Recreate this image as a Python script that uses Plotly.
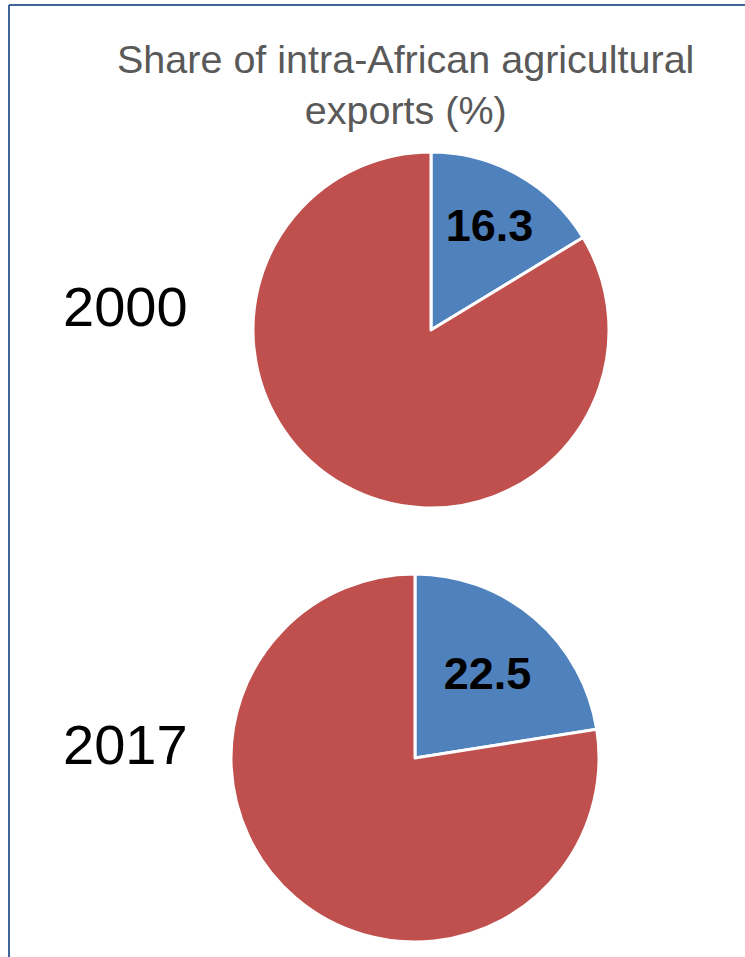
import plotly.graph_objects as go

# Data
years = ["2000", "2017"]
intra_share = [16.3, 22.5]
other_share = [83.7, 77.5]
slice_names = ["Intra-African", "Rest of world"]
title_text = "Share of intra-African agricultural<br>exports (%)"

W, H = 745, 957
blue = "#4f81bd"
red = "#c0504d"

# pie placement (pixels: center x, center y, radius)
placements = [(431, 330, 178), (415, 758, 184)]
label_y = [306, 744]

fig = go.Figure()
for i, yr in enumerate(years):
    cx, cy, r = placements[i]
    vals = [intra_share[i], other_share[i]]
    fig.add_trace(go.Pie(
        labels=slice_names,
        values=vals,
        text=[f"{intra_share[i]:.1f}", ""],
        textinfo="text",
        textposition="inside",
        insidetextorientation="horizontal",
        insidetextfont=dict(family="Liberation Sans", size=45, color="black", weight="bold"),
        marker=dict(colors=[blue, red], line=dict(color="white", width=3)),
        sort=False,
        direction="clockwise",
        rotation=0,
        hole=0,
        showlegend=False,
        domain=dict(x=[(cx - r) / W, (cx + r) / W], y=[1 - (cy + r) / H, 1 - (cy - r) / H]),
    ))
    fig.add_annotation(
        text=yr, x=125 / W, y=1 - label_y[i] / H, xref="paper", yref="paper",
        xanchor="center", yanchor="middle", showarrow=False,
        font=dict(family="Liberation Sans", size=56, color="black"),
    )

fig.add_annotation(
    text=title_text, x=405 / W, y=1 - 84 / H, xref="paper", yref="paper",
    xanchor="center", yanchor="middle", showarrow=False,
    font=dict(family="Liberation Sans", size=39.5, color="#595959"),
)

# frame lines (top and left)
fig.add_shape(type="line", xref="paper", yref="paper", x0=9 / W, x1=1, y0=1 - 5 / H, y1=1 - 5 / H,
              line=dict(color="#41679a", width=2))
fig.add_shape(type="line", xref="paper", yref="paper", x0=9 / W, x1=9 / W, y0=0, y1=1 - 5 / H,
              line=dict(color="#41679a", width=2))

fig.update_layout(
    width=W, height=H,
    margin=dict(l=0, r=0, t=0, b=0),
    paper_bgcolor="white", plot_bgcolor="white",
)

fig.write_html(
    "out.html",
    config={"displayModeBar": False},
    post_script="document.body.style.margin='0';document.body.style.overflow='hidden';",
)
